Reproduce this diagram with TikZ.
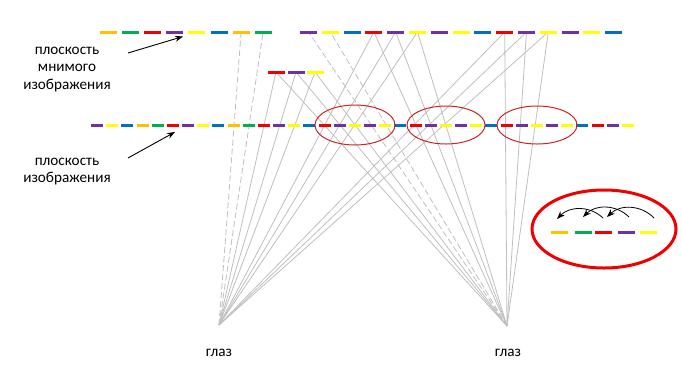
\documentclass[tikz,border=0pt]{standalone}
\usepackage{fontspec}
\setmainfont{Carlito}
\usepackage{tikz}
\usetikzlibrary{arrows.meta,backgrounds}

\definecolor{sorange}{RGB}{255,192,0}
\definecolor{sgreen}{RGB}{0,176,80}
\definecolor{sred}{RGB}{240,0,0}
\definecolor{spurple}{RGB}{112,48,160}
\definecolor{syellow}{RGB}{255,255,0}
\definecolor{sblue}{RGB}{0,112,192}
\definecolor{ringred}{RGB}{205,35,35}

\begin{document}
\begin{tikzpicture}[x=1bp,y=-1bp,
  seg/.style={rectangle,fill=#1,draw=none,inner sep=0pt,minimum width=17bp,minimum height=3bp},
  segs/.style={seg=#1,minimum width=12bp},
  ray/.style={gray!50,line width=0.8bp},
  rayd/.style={ray,dash pattern=on 6bp off 3bp},
  lbl/.style={align=center,font=\fontsize{15.2bp}{17.5bp}\selectfont},
  ring/.style={ringred,line width=1bp}]
  \useasboundingbox (0,0) rectangle (682,382);

  % plane of the virtual image
  \foreach \c [count=\i] in {sorange,sgreen,sred,spurple,syellow,sblue,sorange,sgreen}
    \node[seg=\c] (vl\i) at ({108.5+22.1*(\i-1)},32) {};
  \foreach \c [count=\i] in {spurple,syellow,sblue,sred,spurple,syellow,spurple,syellow,
                             sblue,sred,spurple,syellow,spurple,syellow,sblue}
    \node[seg=\c] (vr\i) at ({308.5+21.8*(\i-1)},32) {};
  \node[seg=sred]    (s1) at (276,72) {};
  \node[seg=spurple] (s2) at (296,72) {};
  \node[seg=syellow] (s3) at (315,72) {};

  % plane of the image
  \foreach \c [count=\i] in {spurple,syellow,sblue,sorange,sgreen,sred,spurple,syellow,sblue,
                             sorange,sgreen,sred,spurple,syellow,sblue,sred,spurple,syellow,
                             spurple,syellow,sblue,sred,spurple,syellow,spurple,syellow,sblue,
                             sred,spurple,syellow,spurple,syellow,sblue,sred,spurple,syellow}
    \node[segs=\c] (im\i) at ({97+15.17*(\i-1)},125) {};

  % eyes
  \coordinate (eyeL) at (219,325);
  \coordinate (eyeR) at (507,326);
  \node[lbl] (glazL) at (219,353) {глаз};
  \node[lbl] (glazR) at (508,353) {глаз};

  \begin{scope}[on background layer]
    \draw[rayd] (eyeL) -- (vl7.center);
    \draw[rayd] (eyeL) -- (vl8.center);
    \draw[rayd] (eyeR) -- (vr1.center);
    \draw[rayd] (eyeR) -- (vr2.center);
    \foreach \t in {s1,s2,s3,vr4,vr5,vr6,vr10,vr11,vr12} {
      \draw[ray] (eyeL) -- (\t.center);
      \draw[ray] (eyeR) -- (\t.center);
    }
  \end{scope}

  \draw[ring] (355,125) ellipse [x radius=40bp, y radius=20bp];
  \draw[ring] (446,125) ellipse [x radius=39bp, y radius=19bp];
  \draw[ring] (537,125) ellipse [x radius=40bp, y radius=19bp];

  % labels
  \node[lbl] (plm) at (67,69.5) {плоскость\\мнимого\\изображения};
  \node[lbl] (pli) at (67,171.5) {плоскость\\изображения};
  \coordinate (a1) at (128,53);
  \coordinate (b1) at (183,36.5);
  \coordinate (a2) at (128,158);
  \coordinate (b2) at (175,132);
  \draw[-{Stealth[length=8bp,width=6bp]},line width=0.9bp] (a1) -- (b1);
  \draw[-{Stealth[length=8bp,width=6bp]},line width=0.9bp] (a2) -- (b2);

  % zoomed part
  \draw[sred,line width=3bp] (604,229) ellipse [x radius=72bp, y radius=39bp];
  \node[seg=sorange] (z1) at (559.5,232) {};
  \node[seg=sgreen]  (z2) at (583,232) {};
  \node[seg=sred]    (z3) at (603.5,232) {};
  \node[seg=spurple] (z4) at (626,232) {};
  \node[seg=syellow] (z5) at (648.5,232) {};
  \coordinate (c1) at (603,218);
  \coordinate (d1) at (557,219);
  \coordinate (c2) at (629,217);
  \coordinate (d2) at (583,217);
  \coordinate (c3) at (654,218);
  \coordinate (d3) at (607,217);
  \draw[-{Stealth[length=8bp,width=6bp]},line width=0.8bp] (c1) to[bend right=45] (d1);
  \draw[-{Stealth[length=8bp,width=6bp]},line width=0.8bp] (c2) to[bend right=45] (d2);
  \draw[-{Stealth[length=8bp,width=6bp]},line width=0.8bp] (c3) to[bend right=45] (d3);
\end{tikzpicture}
\end{document}
